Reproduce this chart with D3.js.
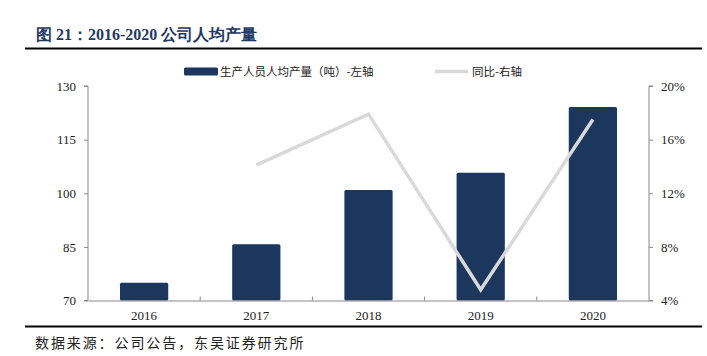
<!DOCTYPE html>
<html><head><meta charset="utf-8">
<script src="https://cdn.jsdelivr.net/npm/d3@7"></script>
<style>
body{margin:0;background:#fff;}
svg{display:block;}
</style></head>
<body>
<svg id="c" width="707" height="356"></svg>
<script>
const years = ["2016","2017","2018","2019","2020"];
const output = [75.0, 85.7, 100.9, 105.7, 124.1];
const growth = [null, 14.1, 17.9, 4.8, 17.5];
const leftTicks = [70, 85, 100, 115, 130];
const rightTicks = [4, 8, 12, 16, 20];
const titleText = "图 21：2016-2020 公司人均产量";
const sourceText = "数据来源：公司公告，东吴证券研究所";
const legendBar = "生产人员人均产量（吨）-左轴";
const legendLine = "同比-右轴";

const svg = d3.select("#c");
const L = 88, R = 649, T = 86, B = 300.5;
const serif = "'Liberation Serif','Times New Roman',serif";
const cjk = "'Noto Sans CJK SC','Noto Sans',sans-serif";

// title
svg.append("text").attr("x", 36).attr("y", 40)
  .attr("font-family", serif).attr("font-weight", "bold").attr("font-size", 16)
  .attr("fill", "#1f3864").text(titleText);
svg.append("line").attr("x1", 25).attr("x2", 702).attr("y1", 48.5).attr("y2", 48.5)
  .attr("stroke", "#000").attr("stroke-width", 2);

const x = d3.scaleBand().domain(years).range([L, R]).paddingInner(0.57).paddingOuter(0.285);
const xb = d3.scaleBand().domain(years).range([L, R]);
const yL = d3.scaleLinear().domain([70, 130]).range([B, T]);
const yR = d3.scaleLinear().domain([4, 20]).range([B, T]);

// bars
svg.append("g").selectAll("rect").data(years).join("rect")
  .attr("x", d => x(d)).attr("width", x.bandwidth())
  .attr("y", (d, i) => yL(output[i])).attr("height", (d, i) => B - yL(output[i]))
  .attr("rx", 1.5).attr("fill", "#1b375e");

// axes
const axisColor = "#888";
const gl = svg.append("g").attr("transform", `translate(${L},0)`)
  .call(d3.axisLeft(yL).tickValues(leftTicks).tickSize(4).tickPadding(8));
const gr = svg.append("g").attr("transform", `translate(${R},0)`)
  .call(d3.axisRight(yR).tickValues(rightTicks).tickSize(4).tickPadding(8).tickFormat(d => d + "%"));
const gx = svg.append("g").attr("transform", `translate(0,${B})`)
  .call(d3.axisBottom(xb).tickSize(0).tickPadding(10));
[gl, gr, gx].forEach(g => {
  g.selectAll("path,line").attr("stroke", axisColor);
  g.selectAll("text").attr("font-family", serif).attr("font-size", 13).attr("fill", "#222");
});
gr.select("path.domain").attr("d", `M4,${T}H0V${B}H4`);
gl.select("path.domain").attr("d", `M-4,${T}H0V${B}H-4`);
// x boundary ticks pointing up
svg.append("g").selectAll("line").data(years.slice(1)).join("line")
  .attr("x1", d => xb(d)).attr("x2", d => xb(d))
  .attr("y1", B).attr("y2", B - 4).attr("stroke", axisColor);

// line
const pts = years.map((d, i) => [d, growth[i]]).filter(p => p[1] != null);
svg.append("path").datum(pts)
  .attr("d", d3.line().x(p => xb(p[0]) + xb.bandwidth() / 2).y(p => yR(p[1])))
  .attr("fill", "none").attr("stroke", "#d9d9d9").attr("stroke-width", 3.5);

// legend
svg.append("rect").attr("x", 184).attr("y", 67.5).attr("width", 34).attr("height", 8)
  .attr("rx", 1.5).attr("fill", "#1b375e");
svg.append("text").attr("x", 220).attr("y", 76).attr("font-family", cjk).attr("font-size", 11.5)
  .attr("fill", "#222").text(legendBar);
svg.append("line").attr("x1", 435).attr("x2", 468).attr("y1", 71.5).attr("y2", 71.5)
  .attr("stroke", "#d9d9d9").attr("stroke-width", 3.5);
svg.append("text").attr("x", 472).attr("y", 76).attr("font-family", cjk).attr("font-size", 11.5)
  .attr("fill", "#222").text(legendLine);

// bottom
svg.append("line").attr("x1", 25).attr("x2", 702).attr("y1", 326.5).attr("y2", 326.5)
  .attr("stroke", "#000").attr("stroke-width", 2);
svg.append("text").attr("x", 35).attr("y", 348).attr("font-family", cjk).attr("font-size", 14)
  .attr("letter-spacing", 1.9).attr("fill", "#222").text(sourceText);
</script>
</body></html>
